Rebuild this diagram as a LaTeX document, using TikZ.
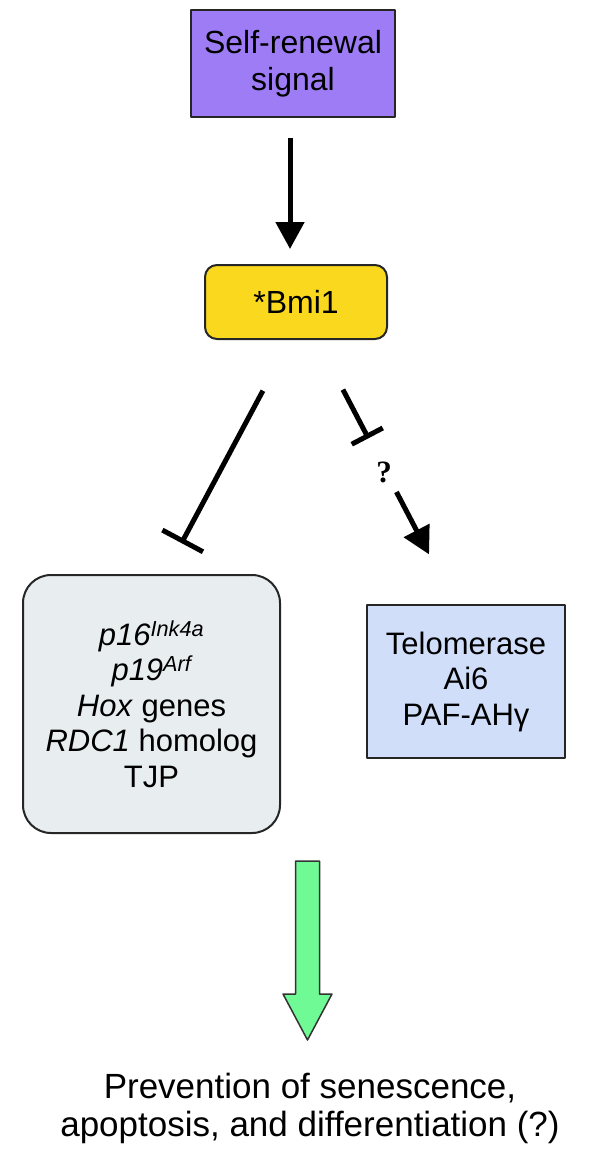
\documentclass[tikz,border=0pt]{standalone}
\usepackage{fontspec}
\setmainfont{Liberation Sans}
\newfontfamily\qfont{Liberation Serif}
\usetikzlibrary{arrows.meta}
\definecolor{signalpurple}{RGB}{158,124,246}
\definecolor{bmiyellow}{RGB}{249,216,30}
\definecolor{targetgray}{RGB}{232,237,240}
\definecolor{targetblue}{RGB}{208,222,250}
\definecolor{outgreen}{RGB}{112,250,150}
\begin{document}
\begin{tikzpicture}[x=1pt,y=-1pt, line join=round,
  box/.style={draw=black!85, line width=2pt, align=center, inner sep=0pt},
  bigtext/.style={font=\fontsize{32}{37}\selectfont},
  listtext/.style={font=\fontsize{31}{35.5}\selectfont},
  act/.style={line width=5pt, -{Triangle[length=27pt,width=28pt]}},
  inh/.style={line width=5pt, -{Bar[width=#1]}},
  qmark/.style={font=\qfont\bfseries\fontsize{31}{33}\selectfont, inner sep=0pt}]
\def\W{591} \def\H{1161}
%	\draw[color=gray!50,dashed] (0,0) grid (\W,\H);
\useasboundingbox (0,0) rectangle (\W,\H);
\node[box, bigtext, fill=signalpurple, minimum width=204pt, minimum height=107pt] (signal) at (293,63.5) {Self-renewal\\signal};
\node[box, bigtext, fill=bmiyellow, rounded corners=12pt, minimum width=182pt, minimum height=74pt] (bmi) at (296,302) {*Bmi1};
\node[box, listtext, fill=targetgray, rounded corners=28pt, minimum width=257pt, minimum height=258pt] (rep) at (151.5,704)
  {\textit{p16\textsuperscript{Ink4a}}\\\textit{p19\textsuperscript{Arf}}\\\textit{Hox} genes\\\textit{RDC1} homolog\\TJP};
\node[box, listtext, fill=targetblue, minimum width=198pt, minimum height=153pt] (tel) at (466,681.5) {Telomerase\\Ai6\\PAF-AHγ};
\node[align=center, font=\fontsize{35}{38}\selectfont, inner sep=0pt] (outcome) at (310,1108)
  {Prevention of senescence,\\apoptosis, and differentiation (?)};
\draw[act, shorten <=20pt, shorten >=15pt] ([xshift=-3pt]signal.south) -- ([xshift=-3pt]signal.south |- bmi.north);
\draw[inh=46pt, shorten <=57.5pt, shorten >=35pt] ([xshift=-6pt]bmi.south) -- ([xshift=13.5pt]rep.north);
\path ([xshift=21pt]bmi.south) -- coordinate[pos=0.5] (qpos) ([xshift=-11pt]tel.north);
\node[qmark] (q) at ([xshift=-2pt]qpos) {?};
\draw[inh=35pt, shorten <=56pt, shorten >=38pt] ([xshift=21pt]bmi.south) -- (qpos);
\draw[act, shorten <=22.5pt, shorten >=56pt] (qpos) -- ([xshift=-11pt]tel.north);
\draw[fill=outgreen, draw=black!80, line width=1.5pt] (295.5,861) -- (319.5,861) -- (319.5,994) -- (332,994) -- (307.5,1040) -- (283,994) -- (295.5,994) -- cycle;
\end{tikzpicture}
\end{document}
